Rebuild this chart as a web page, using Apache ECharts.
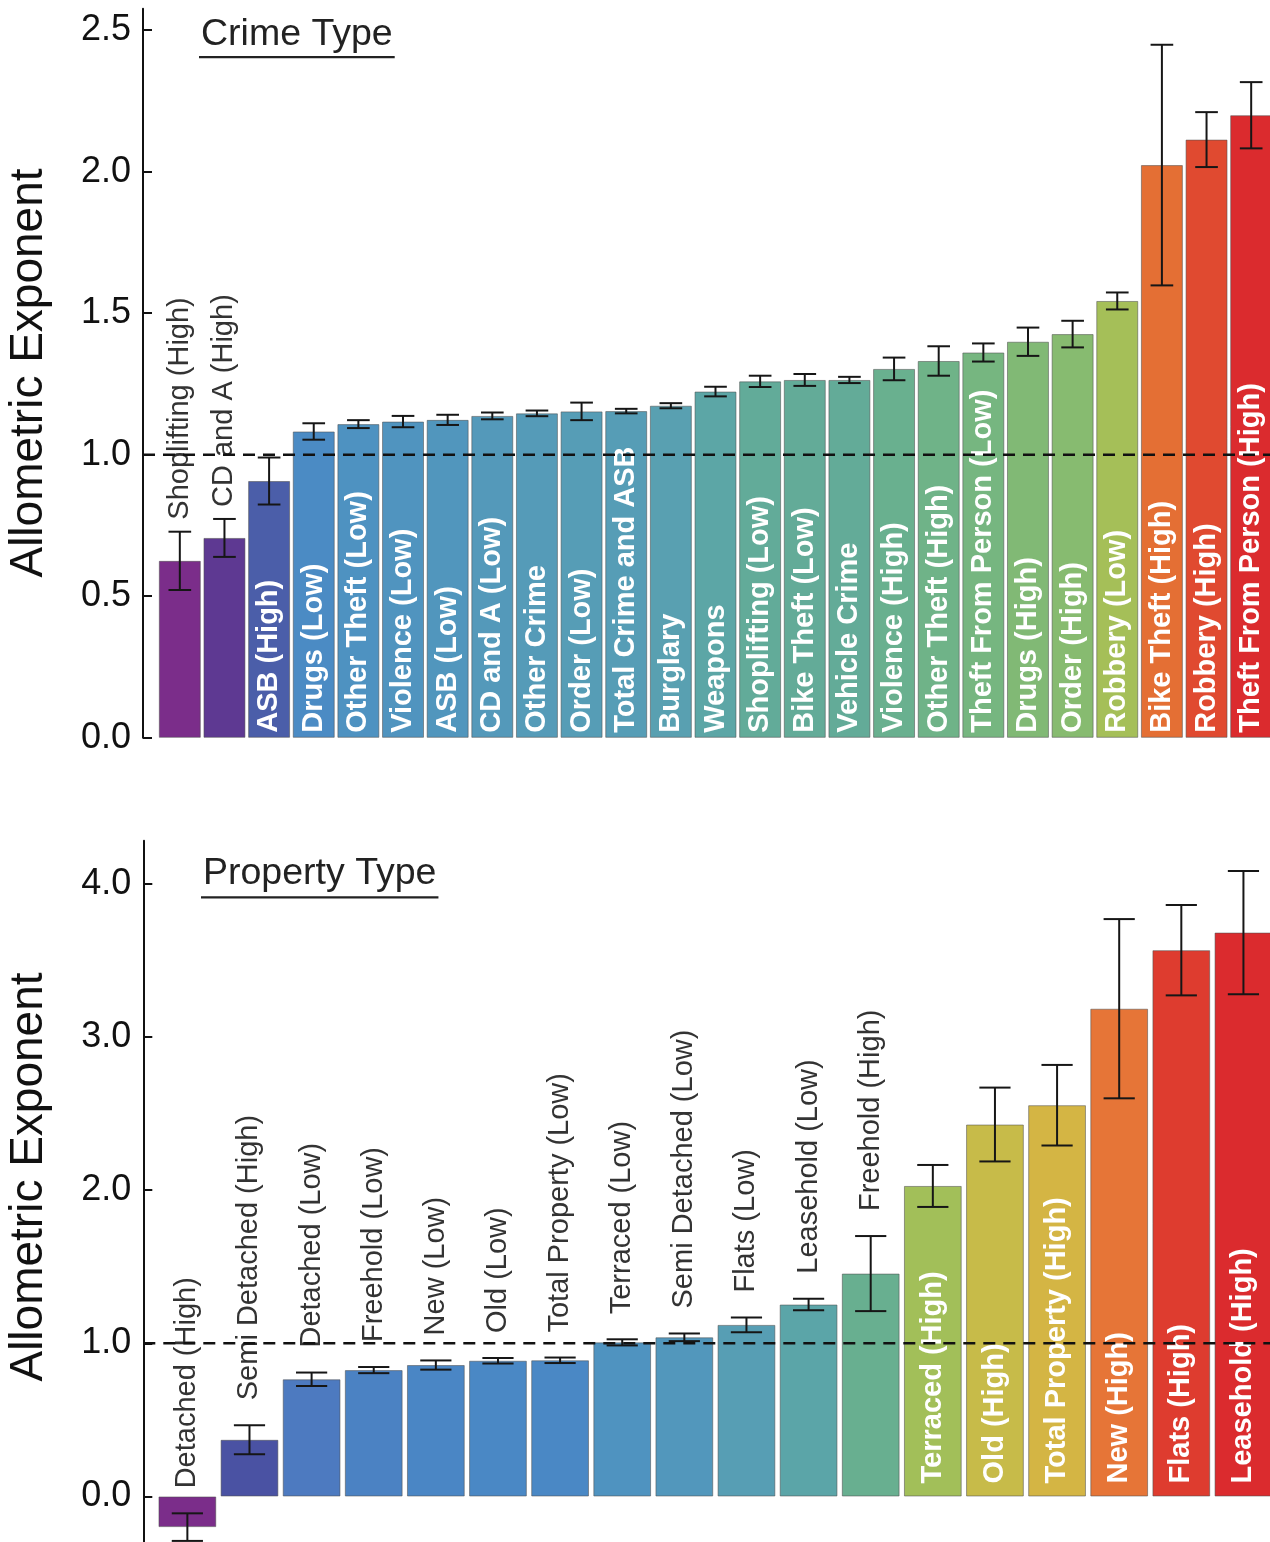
<!DOCTYPE html>
<html>
<head>
<meta charset="utf-8">
<title>Allometric exponents by crime and property type</title>
<script src="https://cdn.jsdelivr.net/npm/echarts@6/dist/echarts.min.js"></script>
<style>
  html, body { margin: 0; padding: 0; background: #ffffff; }
  #chart { width: 1270px; height: 1542px; }
</style>
</head>
<body>
<div id="chart"></div>
<script>
// ---- data -------------------------------------------------------------
const crimeTypes = [
  'Shoplifting (High)', 'CD and A (High)', 'ASB (High)', 'Drugs (Low)',
  'Other Theft (Low)', 'Violence (Low)', 'ASB (Low)', 'CD and A (Low)',
  'Other Crime', 'Order (Low)', 'Total Crime and ASB', 'Burglary', 'Weapons',
  'Shoplifting (Low)', 'Bike Theft (Low)', 'Vehicle Crime', 'Violence (High)',
  'Other Theft (High)', 'Theft From Person (Low)', 'Drugs (High)', 'Order (High)',
  'Robbery (Low)', 'Bike Theft (High)', 'Robbery (High)', 'Theft From Person (High)'
];
const crimeExponent = [
  0.625, 0.706, 0.907, 1.082, 1.108, 1.117, 1.123, 1.137, 1.146, 1.153,
  1.154, 1.173, 1.223, 1.259, 1.264, 1.264, 1.303, 1.331, 1.361, 1.399,
  1.426, 1.543, 2.023, 2.113, 2.199
];
const crimeError = [
  0.103, 0.067, 0.083, 0.029, 0.014, 0.020, 0.018, 0.012, 0.010, 0.031,
  0.008, 0.009, 0.017, 0.020, 0.021, 0.011, 0.040, 0.052, 0.032, 0.050,
  0.047, 0.030, 0.425, 0.097, 0.117
];

const propertyTypes = [
  'Detached (High)', 'Semi Detached (High)', 'Detached (Low)', 'Freehold (Low)',
  'New (Low)', 'Old (Low)', 'Total Property (Low)', 'Terraced (Low)',
  'Semi Detached (Low)', 'Flats (Low)', 'Leasehold (Low)', 'Freehold (High)',
  'Terraced (High)', 'Old (High)', 'Total Property (High)', 'New (High)',
  'Flats (High)', 'Leasehold (High)'
];
const propertyExponent = [
  -0.200, 0.370, 0.765, 0.825, 0.858, 0.886, 0.889, 1.006, 1.039, 1.120,
  1.253, 1.455, 2.027, 2.428, 2.554, 3.184, 3.566, 3.681
];
const propertyError = [
  0.090, 0.095, 0.044, 0.020, 0.030, 0.018, 0.018, 0.020, 0.025, 0.048,
  0.038, 0.245, 0.137, 0.241, 0.263, 0.585, 0.295, 0.402
];

const crimeTicks = [0, 0.5, 1.0, 1.5, 2.0, 2.5];
const propertyTicks = [0, 1, 2, 3, 4];
const referenceExponent = 1.0;

// ---- styling helpers ---------------------------------------------------
const FONT = '"Liberation Sans", Arial, Helvetica, sans-serif';

// spectral ramp: purple -> blue -> teal -> green -> yellow -> orange -> red
const colourStops = [
  [0.000, '#7B2D8A'], [0.055, '#5C3A93'], [0.147, '#4A52A3'], [0.180, '#4B5EA9'],
  [0.249, '#4D7AC0'], [0.275, '#4A87C6'], [0.290, '#4B8BC4'], [0.310, '#4F93C0'],
  [0.330, '#559BB8'], [0.350, '#59A1B0'], [0.380, '#5CA6A6'], [0.405, '#63AB98'],
  [0.430, '#69B08F'], [0.450, '#70B387'], [0.470, '#77B67F'], [0.490, '#80B975'],
  [0.510, '#87BB70'], [0.575, '#A2BF59'], [0.680, '#C8BB49'], [0.710, '#D4B544'],
  [0.870, '#E67637'], [0.890, '#E46E34'], [0.945, '#E04A30'], [1.000, '#DB2B2E']
];
function hexToRgb(h) {
  return [parseInt(h.slice(1, 3), 16), parseInt(h.slice(3, 5), 16), parseInt(h.slice(5, 7), 16)];
}
function spectrum(t) {
  t = Math.max(0, Math.min(1, t));
  for (let k = 1; k < colourStops.length; k++) {
    const [t1, c1] = colourStops[k];
    if (t <= t1) {
      const [t0, c0] = colourStops[k - 1];
      const f = (t - t0) / (t1 - t0 || 1);
      const a = hexToRgb(c0), b = hexToRgb(c1);
      return 'rgb(' + a.map((v, j) => Math.round(v + (b[j] - v) * f)).join(',') + ')';
    }
  }
  return colourStops[colourStops.length - 1][1];
}

const measureCtx = document.createElement('canvas').getContext('2d');
function textWidth(text, font) {
  measureCtx.font = font;
  return measureCtx.measureText(text).width;
}

const LABEL_SIZE = 29;
const boldFont = 'bold ' + LABEL_SIZE + 'px ' + FONT;
const plainFont = LABEL_SIZE + 'px ' + FONT;
const FIT_MARGIN = 20;   // extra room a name needs before it goes inside its bar

// panel layouts (plot areas run slightly past the right and bottom edges of the page)
const panels = [
  {
    names: crimeTypes, values: crimeExponent, errors: crimeError, ticks: crimeTicks,
    grid: { left: 157.5, width: 1116, top: 8.8, height: 729, outerBoundsMode: 'none' },
    yMin: 0, yMax: 2.575, gap: 0.06, axisOffset: 14.5,
    insidePad: 5, outsideGap: 12
  },
  {
    names: propertyTypes, values: propertyExponent, errors: propertyError, ticks: propertyTicks,
    grid: { left: 156.3, width: 1118.2, top: 840.8, height: 709.3, outerBoundsMode: 'none' },
    yMin: -0.35, yMax: 4.28, gap: 0.07, axisOffset: 13,
    insidePad: 13, outsideGap: 25
  }
];

// error bars plus the rotated category names (inside the bar when it fits)
function errorAndLabelRenderer(p) {
  return function (params, api) {
    const i = api.value(0);
    const v = api.value(1);
    const e = api.value(2);
    const top = api.coord([i, v + e]);
    const bottom = api.coord([i, v - e]);
    const zero = api.coord([i, 0]);
    const barTop = api.coord([i, v]);
    const band = api.size([1, 0])[0];
    const cap = band * (1 - p.gap) * 0.27;
    const x = top[0];
    const lineStyle = { stroke: '#161616', lineWidth: 2 };
    const children = [
      { type: 'line', shape: { x1: x, y1: top[1], x2: x, y2: bottom[1] }, style: lineStyle },
      { type: 'line', shape: { x1: x - cap, y1: top[1], x2: x + cap, y2: top[1] }, style: lineStyle },
      { type: 'line', shape: { x1: x - cap, y1: bottom[1], x2: x + cap, y2: bottom[1] }, style: lineStyle }
    ];
    const name = p.names[i];
    const barHeight = zero[1] - barTop[1];
    if (textWidth(name, boldFont) + p.insidePad + FIT_MARGIN <= barHeight) {
      children.push({
        type: 'text', x: x, y: zero[1] - p.insidePad, rotation: Math.PI / 2,
        style: { text: name, font: boldFont, fill: '#ffffff', align: 'left', verticalAlign: 'middle' }
      });
    } else {
      children.push({
        type: 'text', x: x, y: top[1] - p.outsideGap, rotation: Math.PI / 2,
        style: { text: name, font: plainFont, fill: '#333333', align: 'left', verticalAlign: 'middle' }
      });
    }
    return { type: 'group', children: children };
  };
}

// dashed reference line, drawn from the y axis to the right edge
function referenceLineRenderer(p) {
  return function (params, api) {
    const y = api.coord([0, api.value(1)])[1];
    const cs = params.coordSys;
    return {
      type: 'line',
      shape: { x1: cs.x - p.axisOffset, y1: y, x2: cs.x + cs.width + 10, y2: y },
      style: { stroke: '#111111', lineWidth: 2.4, lineDash: [12, 8] }
    };
  };
}

const grids = [], xAxes = [], yAxes = [], series = [];
panels.forEach((p, k) => {
  const vMin = Math.min(...p.values), vMax = Math.max(...p.values);
  grids.push(p.grid);
  xAxes.push({ gridIndex: k, type: 'category', data: p.names, show: false });
  yAxes.push({
    gridIndex: k, type: 'value', min: p.yMin, max: p.yMax, offset: p.axisOffset,
    splitLine: { show: false },
    axisLine: { show: true, lineStyle: { color: '#111111', width: 2 } },
    axisTick: { show: true, inside: true, length: 9, customValues: p.ticks,
                lineStyle: { color: '#111111', width: 2 } },
    axisLabel: { customValues: p.ticks, formatter: v => Number(v).toFixed(1),
                 fontSize: 36, color: '#111111', margin: 12, fontFamily: FONT }
  });
  series.push({
    type: 'bar', xAxisIndex: k, yAxisIndex: k, data: p.values,
    barCategoryGap: (p.gap * 100) + '%', z: 2, animation: false, silent: true,
    itemStyle: {
      color: params => spectrum((params.value - vMin) / (vMax - vMin)),
      borderColor: 'rgba(80,80,80,0.55)', borderWidth: 1
    }
  });
  series.push({
    type: 'custom', xAxisIndex: k, yAxisIndex: k, z: 3, animation: false, silent: true,
    data: p.values.map((v, i) => [i, v, p.errors[i]]),
    encode: { x: 0, y: 1 },
    renderItem: errorAndLabelRenderer(p)
  });
  series.push({
    type: 'custom', xAxisIndex: k, yAxisIndex: k, z: 4, animation: false, silent: true,
    data: [[0, referenceExponent]],
    encode: { x: 0, y: 1 },
    renderItem: referenceLineRenderer(p)
  });
});

// panel headings with an underline, and the shared y-axis title
const TITLE_FONT = '37.5px ' + FONT;
function heading(text, x, y, underlineY) {
  const w = textWidth(text, TITLE_FONT);
  return [
    { type: 'text', x: x, y: y, style: { text: text, font: TITLE_FONT, fill: '#222222',
      align: 'left', verticalAlign: 'bottom' } },
    { type: 'rect', shape: { x: x - 2, y: underlineY - 1.1, width: w + 4, height: 2.2 },
      style: { fill: '#222222' } }
  ];
}
function yTitle(y) {
  return { type: 'text', x: 29, y: y, rotation: Math.PI / 2,
    style: { text: 'Allometric Exponent', font: '46px ' + FONT, fill: '#111111',
      align: 'center', verticalAlign: 'middle' } };
}

const chart = echarts.init(document.getElementById('chart'), null, { renderer: 'canvas' });
chart.setOption({
  backgroundColor: '#ffffff',
  animation: false,
  grid: grids,
  xAxis: xAxes,
  yAxis: yAxes,
  series: series,
  graphic: [
    ...heading('Crime Type', 201, 54, 57.2),
    ...heading('Property Type', 203, 893, 897.3),
    yTitle(373),
    yTitle(1177)
  ]
});
</script>
</body>
</html>
